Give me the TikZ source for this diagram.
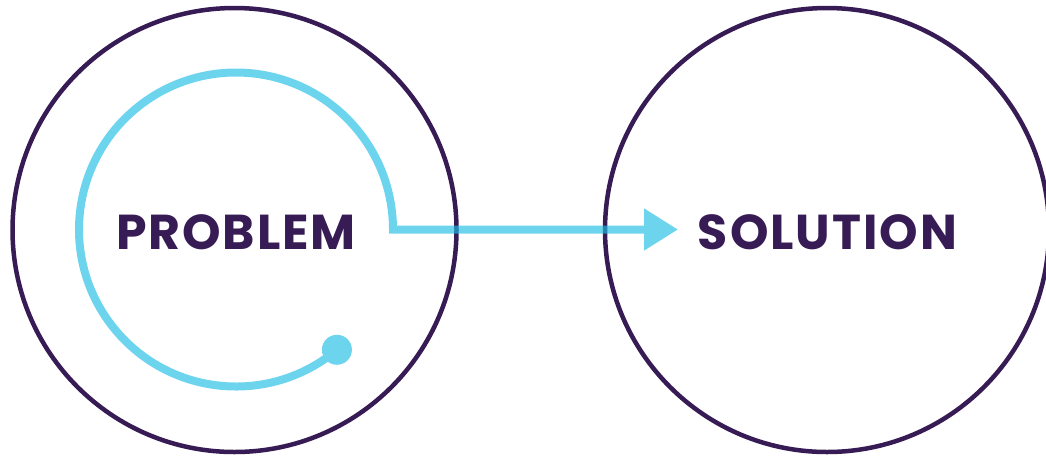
\documentclass[tikz,border=0pt]{standalone}
\usepackage{fontspec}
\newfontfamily\wordfont{Poppins}[LetterSpace=4]
\usetikzlibrary{arrows.meta,calc}
\definecolor{navy}{RGB}{54,27,84}
\definecolor{skydeep}{RGB}{30,189,229}
\begin{document}
\begin{tikzpicture}[x=1pt,y=-1pt,
  ring/.style={circle, draw=navy, line width=4.5pt, minimum size=444pt, inner sep=0pt},
  wordmark/.style={font=\wordfont\bfseries\fontsize{49}{49}\selectfont, text=navy, anchor=base, inner sep=0pt},
  flow/.style={draw=skydeep, line width=8pt},
  dotfill/.style={fill=skydeep}]
\useasboundingbox (0,0) rectangle (1046,459);
\node[ring] (prob) at (234.5,230) {};
\node[ring] (sol) at (827,230) {};
\coordinate (hub) at (236,229.5);
\coordinate (start) at ($(hub)+(50:157)$);
\coordinate (tip) at (678,229.5);
\begin{scope}[transparency group, opacity=0.65]
\draw[flow, -{Triangle[length=34pt, width=40pt]}] (start) arc[start angle=50, end angle=360, radius=157] -- (tip);
\fill[dotfill] (start) circle[radius=15];
\end{scope}
\node[wordmark] (probtext) at (236,249) {PROBLEM};
\node[wordmark] (soltext) at (827.5,249) {SOLUTION};
\end{tikzpicture}
\end{document}
